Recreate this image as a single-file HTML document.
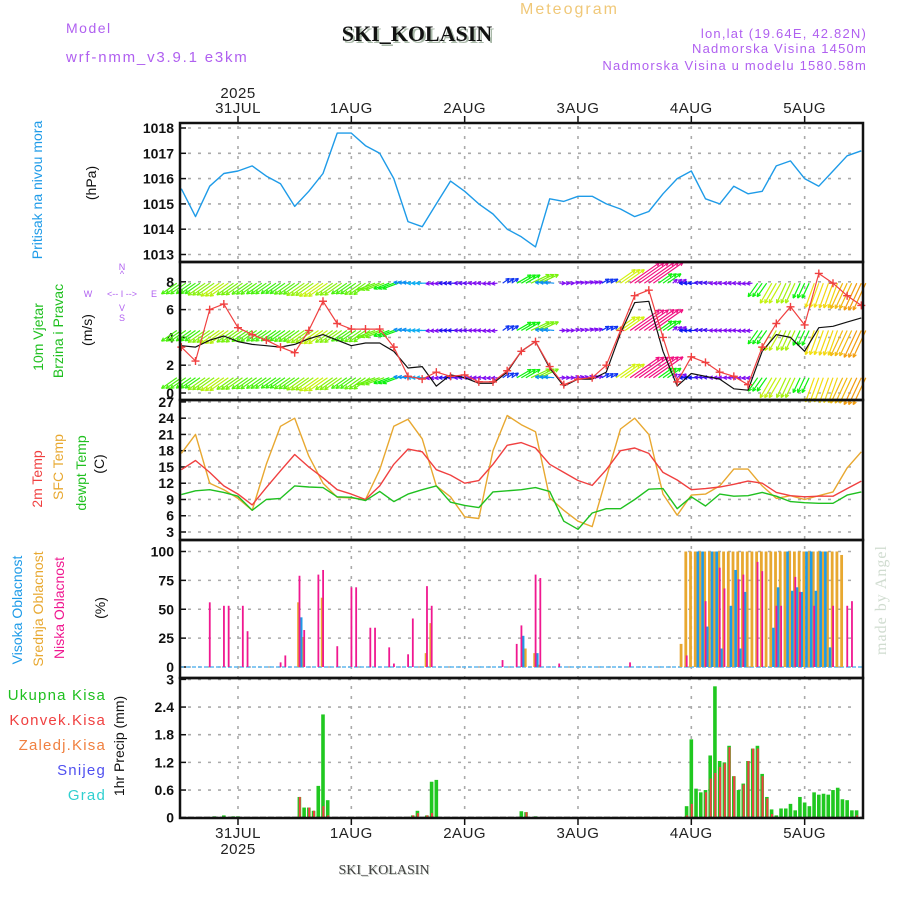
<!DOCTYPE html>
<html><head><meta charset="utf-8"><style>
body{margin:0;background:#fff;}
svg{display:block;font-family:"Liberation Sans",sans-serif;}
.tk{font-size:14px;font-weight:bold;fill:#111;text-anchor:end;}
.dl{font-size:15px;fill:#222;text-anchor:middle;letter-spacing:0.5px;}
</style></head><body>
<svg id="chart" width="900" height="900" viewBox="0 0 900 900" xmlns="http://www.w3.org/2000/svg">
<text x="66" y="33" font-size="14" fill="#b060f0" letter-spacing="1.5">Model</text>
<text x="66" y="62" font-size="15" fill="#b060f0" letter-spacing="1.8">wrf-nmm_v3.9.1 e3km</text>
<text x="520" y="14" font-size="16" fill="#f0c878" letter-spacing="2">Meteogram</text>
<text x="419" y="43" font-size="22" font-weight="bold" font-family="Liberation Serif,serif" fill="#a8b8a8" text-anchor="middle">SKI_KOLASIN</text>
<text x="417" y="41" font-size="22" font-weight="bold" font-family="Liberation Serif,serif" fill="#111" text-anchor="middle">SKI_KOLASIN</text>
<text x="867" y="38" font-size="13" fill="#b060f0" text-anchor="end" letter-spacing="1.2">lon,lat (19.64E, 42.82N)</text>
<text x="867" y="53" font-size="13" fill="#b060f0" text-anchor="end" letter-spacing="1.2">Nadmorska Visina 1450m</text>
<text x="867" y="70" font-size="13" fill="#b060f0" text-anchor="end" letter-spacing="1.2">Nadmorska Visina u modelu 1580.58m</text>
<text transform="translate(886,600) rotate(-90)" font-size="16" font-family="Liberation Serif,serif" fill="#d0dcd0" text-anchor="middle" letter-spacing="1">made by Angel</text>

<text transform="translate(42,190) rotate(-90)" font-size="14" fill="#1e9be8" text-anchor="middle">Pritisak na nivou mora</text>
<text transform="translate(96,183) rotate(-90)" font-size="14" fill="#111" text-anchor="middle">(hPa)</text>
<text transform="translate(43,337) rotate(-90)" font-size="14" fill="#20c020" text-anchor="middle">10m Vjetar</text>
<text transform="translate(63,331) rotate(-90)" font-size="14" fill="#20c020" text-anchor="middle">Brzina i Pravac</text>
<text transform="translate(92,330) rotate(-90)" font-size="14" fill="#111" text-anchor="middle">(m/s)</text>
<g fill="#b060f0" font-size="9" text-anchor="middle">
<text x="122" y="270">N</text><text x="122" y="277">^</text><text x="88" y="297">W</text><text x="154" y="297">E</text>
<text x="122" y="297">&lt;-- I --&gt;</text><text x="122" y="311">V</text><text x="122" y="321">S</text></g>
<text transform="translate(42,479) rotate(-90)" font-size="14" fill="#f04040" text-anchor="middle">2m Temp</text>
<text transform="translate(63,467) rotate(-90)" font-size="14" fill="#e8a830" text-anchor="middle">SFC Temp</text>
<text transform="translate(86,473) rotate(-90)" font-size="14" fill="#20c020" text-anchor="middle">dewpt Temp</text>
<text transform="translate(104,464) rotate(-90)" font-size="14" fill="#111" text-anchor="middle">(C)</text>
<text transform="translate(22,610) rotate(-90)" font-size="14" fill="#1e9be8" text-anchor="middle">Visoka Oblacnost</text>
<text transform="translate(43,609) rotate(-90)" font-size="14" fill="#e8a830" text-anchor="middle">Srednja Oblacnost</text>
<text transform="translate(64,608) rotate(-90)" font-size="14" fill="#f01890" text-anchor="middle">Niska Oblacnost</text>
<text transform="translate(105,608) rotate(-90)" font-size="14" fill="#111" text-anchor="middle">(%)</text>
<g font-size="15" text-anchor="end" letter-spacing="1.2">
<text x="106" y="700" fill="#20c020">Ukupna Kisa</text>
<text x="106" y="725" fill="#f04040">Konvek.Kisa</text>
<text x="106" y="750" fill="#f08040">Zaledj.Kisa</text>
<text x="106" y="775" fill="#5050f0">Snijeg</text>
<text x="106" y="800" fill="#30d0d0">Grad</text></g>
<text transform="translate(124,746) rotate(-90)" font-size="14" fill="#111" text-anchor="middle">1hr Precip (mm)</text>
<text x="385" y="875" font-size="14" font-family="Liberation Serif,serif" fill="#c0c8c0" text-anchor="middle">SKI_KOLASIN</text>
<text x="384" y="874" font-size="14" font-family="Liberation Serif,serif" fill="#444" text-anchor="middle">SKI_KOLASIN</text>
<g id="plots"></g>
</svg>
<script>
const hours3=[-12,-9,-6,-3,0,3,6,9,12,15,18,21,24,27,30,33,36,39,42,45,48,51,54,57,60,63,66,69,72,75,78,81,84,87,90,93,96,99,102,105,108,111,114,117,120,123,126,129,132];
const pressure=[1015.6,1014.5,1015.7,1016.2,1016.3,1016.5,1016.1,1015.8,1014.9,1015.5,1016.2,1017.8,1017.8,1017.3,1017.0,1016.0,1014.3,1014.1,1015.0,1015.9,1015.5,1015.0,1014.6,1014.0,1013.7,1013.3,1015.2,1015.1,1015.3,1015.3,1015.0,1014.8,1014.5,1014.7,1015.4,1016.0,1016.3,1015.2,1015.0,1015.7,1015.4,1015.5,1016.5,1016.7,1016.0,1015.7,1016.3,1016.9,1017.1];
const windGust=[3.3,2.3,6.0,6.4,4.7,4.2,3.8,3.3,2.9,4.5,6.6,5.0,4.6,4.6,4.6,3.3,1.2,1.0,1.5,1.2,1.3,0.8,0.8,1.6,3.0,3.7,1.9,0.6,1.0,1.1,2.0,4.5,7.0,7.4,4.0,0.8,2.6,2.2,1.5,1.2,0.6,3.3,5.0,6.2,4.9,8.6,7.9,7.0,6.3];
const windSpeed=[3.4,3.3,3.8,4.1,3.7,3.5,3.4,3.3,3.5,3.9,4.2,3.8,3.4,3.6,3.6,3.0,1.8,1.9,0.5,1.3,1.1,0.7,0.7,1.5,3.0,3.7,1.8,0.5,1.0,1.0,1.5,4.3,6.5,6.6,3.0,0.5,1.4,1.2,1.0,0.3,0.2,3.0,4.2,4.0,3.0,4.7,4.8,5.1,5.4];
const windDir=[215,215,215,215,215,215,215,215,215,215,215,215,215,215,200,200,175,180,185,180,180,180,185,35,30,25,175,0,10,15,30,35,35,35,35,40,180,175,180,180,185,235,240,245,245,250,250,245,245];
const temp2m=[14.5,16.2,14,11.5,10,8,11.2,14.3,17.3,15,13,10.8,10,9,11.5,15.5,18.3,17.8,14.5,13.5,12,12.5,15.5,19,19.5,18.5,15.5,14,12.5,11.6,14.5,18,18.5,17.5,14,12.6,10.8,11,11.3,11.8,12.4,12.0,10.3,9.7,9.5,9.6,9.6,11,12.4];
const tempSfc=[17.5,21,12,10.8,9.2,7.0,15.5,22.5,24,17,12,9.4,9.3,9.0,14.5,22.5,23.8,20.2,11.5,9.5,5.8,5.5,18,24.5,22.8,21.5,9.3,7.0,5.0,4.0,13,22,24,21,10,6.1,9.8,10.0,11.5,14.6,14.6,11.5,9.2,9.7,9.0,9.7,10.4,14.8,17.8];
const dewpt=[9.9,10.6,10.8,10.3,9.6,7.0,9.0,9.2,11.5,11.3,11.2,9.5,9.4,8.8,10.5,8.6,10,10.8,11.5,8.5,7.9,7.5,10.4,10.6,10.8,11.2,10.5,5,3.5,6.5,7.3,7.3,9.0,10.9,11.0,7.3,9.5,7.8,10,9.6,9.7,10.3,9.6,8.6,8.4,8.3,8.3,9.8,10.4];
const lowHours=[-6,-3,-2,1,2,9,10,13,14,17,18,21,24,25,28,29,32,33,36,37,40,41,56,59,60,63,64,68,83,95,99,102,103,106,107,110,111,114,115,118,119,122,126,129,130];
const lowVals=[56,53,53,53,31,4,10,79,32,80,84,18,69,69,34,34,17,3,11,42,70,53,6,20,36,80,77,3,4,10,57,86,68,76,80,91,83,53,53,78,65,53,53,53,57];
const midHours=[13,14,18,40,41,61,63,64,94,95,96,97,98,99,100,101,102,103,104,105,106,107,108,109,110,111,112,113,114,115,116,117,118,119,120,121,122,123,124,125,126,127,128];
const midVals=[56,26,60,12,38,16,12,2,20,100,100,100,100,100,100,100,100,100,100,100,100,100,100,100,100,100,100,100,100,100,100,100,100,100,100,100,100,100,100,100,100,100,97];
const highHours=[13,60,63,97,98,99,100,101,102,104,105,106,107,113,114,116,117,118,119,120,121,122,123,124,125];
const highVals=[43,27,12,100,100,35,100,100,16,53,84,16,65,34,69,100,66,69,65,100,100,66,100,100,17];
const precipHours=[-5,-3,-1,0,13,14,15,16,17,18,19,37,38,40,41,42,60,61,63,95,96,97,98,99,100,101,102,103,104,105,106,107,108,109,110,111,112,113,114,115,116,117,118,119,120,121,122,123,124,125,126,127,128,129,130,131];
const precipTotal=[0.03,0.05,0.03,0.03,0.45,0.22,0.22,0.15,0.69,2.24,0.38,0.05,0.15,0.05,0.78,0.82,0.14,0.12,0.03,0.25,1.7,0.63,0.55,0.6,1.35,2.85,1.23,1.2,1.56,0.9,0.6,0.74,1.23,1.5,1.56,0.95,0.45,0.18,0.05,0.2,0.2,0.3,0.16,0.45,0.33,0.25,0.55,0.5,0.52,0.5,0.6,0.65,0.4,0.38,0.16,0.16];
const precipConv=[0,0,0,0,0.45,0,0.22,0.15,0,0.25,0.05,0.05,0.1,0.05,0.1,0,0,0.12,0,0.05,0.3,0,0,0.55,0.85,0.97,1.1,1.18,1.53,0.9,0,0.72,1.23,1.5,1.5,0.9,0.42,0.08,0,0,0,0,0,0,0,0,0,0,0,0,0,0,0,0,0,0.05];
const dayHours=[0,24,48,72,96,120];
const dayLabels=["31JUL","1AUG","2AUG","3AUG","4AUG","5AUG"];
const pTicks=[1013,1014,1015,1016,1017,1018];
const wTicks=[0,2,4,6,8];
const tTicks=[3,6,9,12,15,18,21,24,27];
const cTicks=[0,25,50,75,100];
const rTicks=[0,0.6,1.2,1.8,2.4,3];
const windBands=[1.1,4.5,7.9];

const NS="http://www.w3.org/2000/svg";
const g=document.getElementById('plots');
const L=180,R=863;
const X=h=>238+h*113.33/24;
const Yp=v=>254.5-(v-1013)*25.3;
const Yw=v=>393-v*13.9;
const Yt=v=>532-(v-3)*5.42;
const Yc=v=>667-v*1.155;
const Yr=v=>817.7-v*46.1;
function mk(tag,at){const e=document.createElementNS(NS,tag);for(const k in at)e.setAttribute(k,at[k]);g.appendChild(e);return e;}
function grid(ticks,Y,fmt,name){
  ticks.forEach(t=>{const y=Y(t);
    const l=mk('line',{x1:L+8,x2:R-6,y1:y,y2:y,stroke:'#aaa','stroke-width':1.6,'stroke-dasharray':'3 7'});
    
    const tk=mk('line',{x1:L,x2:L+6,y1:y,y2:y,stroke:'#111','stroke-width':1.5});
    
    const tx=mk('text',{x:L-6,y:y+5,class:'tk'});tx.textContent=fmt(t);
    
  });
}
grid(pTicks,Yp,t=>t,'pressure');
grid(wTicks,Yw,t=>t,'wind');
grid(tTicks,Yt,t=>t,'temp');
grid(cTicks,Yc,t=>t,'cloud');
grid(rTicks,Yr,t=>t===0||t===3?String(t):t.toFixed(1),'precip');
dayHours.forEach((h,i)=>{const x=X(h);
  const v=mk('line',{x1:x,x2:x,y1:126,y2:815,stroke:'#aaa','stroke-width':1.6,'stroke-dasharray':'3 7'});
  
  const a=mk('line',{x1:x,x2:x,y1:116,y2:123,stroke:'#111','stroke-width':1.5});
  
  const b=mk('line',{x1:x,x2:x,y1:818,y2:825,stroke:'#111','stroke-width':1.5});
  
  const t1=mk('text',{x:x,y:113,class:'dl'});t1.textContent=dayLabels[i];
  
  const t2=mk('text',{x:x,y:838,class:'dl'});t2.textContent=dayLabels[i];
  
});
const y1=mk('text',{x:X(0),y:98,class:'dl'});y1.textContent='2025';

const y2=mk('text',{x:X(0),y:854,class:'dl'});y2.textContent='2025';


function line(vals,Y,color,name,w){
  const pts=hours3.map((h,i)=>X(h).toFixed(1)+','+Y(vals[i]).toFixed(1)).join(' ');
  const p=mk('polyline',{points:pts,fill:'none',stroke:color,'stroke-width':w||1.4,'stroke-linejoin':'round'});
  
}
line(pressure,Yp,'#1e9be8','pressure-line');

function windColor(s){let hue;
  if(s<=1)hue=270;else if(s<2)hue=270-(s-1)*80;else if(s<3)hue=190-(s-2)*70;else if(s<4.5)hue=120-(s-3)*40;else if(s<5.5)hue=60-(s-4.5)*25;else hue=330;
  return 'hsl('+hue+',90%,50%)';}
windBands.forEach(b=>{
  hours3.forEach((h,i)=>{
    const s=windSpeed[i],len=Math.max(6,s*5.5),a=windDir[i]*Math.PI/180;
    const c=windColor(s);
    [-4.5,0,4.5].forEach(off=>{
      const x0=X(h)+off,y0=Yw(b),x1=x0+len*Math.cos(a),y1=y0-len*Math.sin(a);
      const ar=mk('line',{x1:x0,y1:y0,x2:x1,y2:y1,stroke:c,'stroke-width':1.2});
      
      const ha=a+Math.PI;
      [0.45,-0.45].forEach(d=>{
        const hd=mk('line',{x1:x1,y1:y1,x2:x1+4*Math.cos(ha+d),y2:y1-4*Math.sin(ha+d),stroke:c,'stroke-width':1.2});
        
      });
    });
  });
});
line(windSpeed,Yw,'#111','wind-speed-line',1.2);
line(windGust,Yw,'#f04040','wind-gust-line',1.2);
hours3.forEach((h,i)=>{const x=X(h),y=Yw(windGust[i]);
  const m=mk('path',{d:`M${x-4},${y}H${x+4}M${x},${y-4}V${y+4}`,stroke:'#f04040','stroke-width':1.4});
  
});

line(tempSfc,Yt,'#e8a830','sfc-temp-line');
line(temp2m,Yt,'#f04040','temp-2m-line');
line(dewpt,Yt,'#20c020','dewpoint-line');

const base=mk('line',{x1:L,x2:R,y1:Yc(0),y2:Yc(0),stroke:'#60b8f0','stroke-width':1.5,'stroke-dasharray':'4 2'});

midHours.forEach((h,i)=>{const x=X(h);
  const r=mk('rect',{x:x-2.2,y:Yc(midVals[i]),width:2.8,height:Yc(0)-Yc(midVals[i]),fill:'#e8a830'});
  });
highHours.forEach((h,i)=>{const x=X(h);
  const r=mk('rect',{x:x+0.5,y:Yc(highVals[i]),width:2.6,height:Yc(0)-Yc(highVals[i]),fill:'#1e9be8'});
  });
lowHours.forEach((h,i)=>{const x=X(h);
  const r=mk('rect',{x:x-0.8,y:Yc(lowVals[i]),width:1.8,height:Yc(0)-Yc(lowVals[i]),fill:'#f01890'});
  });

precipHours.forEach((h,i)=>{const x=X(h);
  const r=mk('rect',{x:x-1.8,y:Yr(precipTotal[i]),width:3.6,height:Yr(0)-Yr(precipTotal[i]),fill:'#20c820'});
  
  if(precipConv[i]>0){
    const c=mk('rect',{x:x-0.6,y:Yr(precipConv[i]),width:2,height:Yr(0)-Yr(precipConv[i]),fill:'#f04040'});
    }
});
const pb=mk('line',{x1:L,x2:R,y1:Yr(0),y2:Yr(0),stroke:'#222','stroke-width':2,'stroke-dasharray':'6 2'});


[[123,262,'pressure-panel'],[262,400,'wind-panel'],[400,540,'temp-panel'],[540,678,'cloud-panel'],[678,818,'precip-panel']].forEach(p=>{
  const r=mk('rect',{x:L,y:p[0],width:R-L,height:p[1]-p[0],fill:'none',stroke:'#111','stroke-width':2.5});
  
});
</script>
</body></html>
